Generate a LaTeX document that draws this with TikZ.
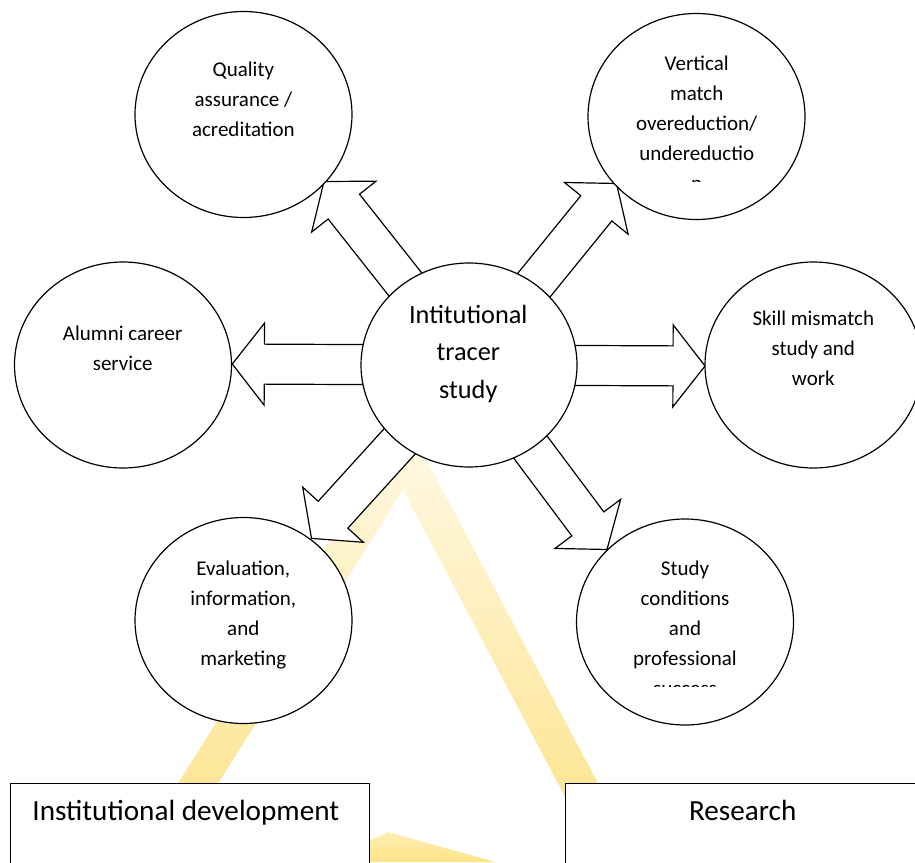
\documentclass[tikz,border=0pt]{standalone}
\usepackage{fontspec}
\setmainfont{Carlito}
\usetikzlibrary{calc,shapes.geometric}

\definecolor{wmlight}{RGB}{255,249,232}
\definecolor{wmmid}{RGB}{254,238,180}
\definecolor{wmdark}{RGB}{253,226,135}

\tikzset{
  bubble/.style={ellipse, draw, line width=1.2pt, fill=white,
    minimum width=217pt, minimum height=206pt, inner sep=0pt},
  blockarr/.style={draw, fill=white, line width=1.2pt, line join=miter},
  smalltxt/.style={font=\fontsize{21}{25}\selectfont, anchor=base, inner sep=0pt},
  bigtxt/.style={font=\fontsize{26.3}{31}\selectfont, anchor=base, inner sep=0pt},
  paneltxt/.style={font=\fontsize{29.2}{34}\selectfont, anchor=base, inner sep=0pt},
  panel/.style={draw, line width=1.2pt, fill=white, anchor=north west,
    minimum height=100pt, inner sep=0pt}
}

% wide block arrow: shaft 40pt, head 82pt wide and 32pt long
% #1 = tail point, #2 = tip point
\newcommand\blockarrow[2]{%
  \path ($(#2)!32pt!(#1)$) coordinate (hb);
  \draw[blockarr] ($(#1)!20pt!90:(#2)$)
    -- ($(hb)!20pt!-90:(#1)$)
    -- ($(hb)!41pt!-90:(#1)$)
    -- (#2)
    -- ($(hb)!41pt!90:(#1)$)
    -- ($(hb)!20pt!90:(#1)$)
    -- ($(#1)!20pt!-90:(#2)$) -- cycle;
}

\begin{document}
\begin{tikzpicture}[x=1pt,y=-1pt]
\useasboundingbox (0,0) rectangle (915,862);
\clip (0,0) rectangle (915,862);
\fill[white] (0,0) rectangle (915,862);

% faint yellow logo in the background
\shade[top color=wmlight, middle color=wmmid, bottom color=wmdark]
  (406,421) -- (639.6,862) -- (599.6,862) -- (403,490)
  -- (168.5,862) -- (128.5,862) -- cycle;
\shade[top color=wmmid, bottom color=wmdark]
  (360,845) -- (388,832) -- (495,862) -- (360,862) -- cycle;

% hub and arrow tips
\coordinate (hub) at (469,365);
\coordinate (tq) at (324,181.5);
\coordinate (tv) at (616.5,183.5);
\coordinate (ta) at (232.3,364);
\coordinate (ts) at (705,366);
\coordinate (te) at (311.5,538.4);
\coordinate (tst) at (607,549.5);

\blockarrow{hub}{tq}
\blockarrow{hub}{tv}
\blockarrow{hub}{ta}
\blockarrow{hub}{ts}
\blockarrow{hub}{te}
\blockarrow{hub}{tst}

% bubbles
\node[bubble] (Q) at (243.5,114.5) {};
\node[bubble] (V) at (696.5,116.5) {};
\node[bubble] (A) at (123,365) {};
\node[bubble, minimum width=216pt, minimum height=204pt] (C) at (hub) {};
\node[bubble] (S) at (813.5,365) {};
\node[bubble] (E) at (243.5,620.5) {};
\node[bubble] (St) at (685,622) {};

% bubble texts
\foreach \t [count=\i] in {Quality, assurance /, acreditation}
  \node[smalltxt] (q\i) at (243.4,76+30*\i-30) {\t};
\foreach \t [count=\i] in {Vertical, match, overeduction/, undereductio}
  \node[smalltxt] (v\i) at (696.7,70+30*\i-30) {\t};
\begin{scope}
  \clip (600,150) rectangle (800,181.2);
  \node[smalltxt] (v5) at (696.7,190) {n};
\end{scope}
\foreach \t [count=\i] in {Alumni career, service}
  \node[smalltxt] (a\i) at (122.7,340+30*\i-30) {\t};
\foreach \t [count=\i] in {Skill mismatch, study and, work}
  \node[smalltxt] (s\i) at (813.3,325+30*\i-30) {\t};
\foreach \t [count=\i] in {{Evaluation,}, {information,}, and, marketing}
  \node[smalltxt] (e\i) at (243.3,575+30*\i-30) {\t};
\foreach \t [count=\i] in {Study, conditions, and, professional}
  \node[smalltxt] (st\i) at (685,575+30*\i-30) {\t};
\begin{scope}
  \clip (600,670) rectangle (780,686.2);
  \node[smalltxt] (st5) at (685,695) {success};
\end{scope}
\foreach \t [count=\i] in {Intitutional, tracer, study}
  \node[bigtxt] (c\i) at (468.3,323+37.5*\i-37.5) {\t};

% panels
\node[panel, minimum width=358.5pt] (dev) at (10,783) {};
\node[paneltxt] (devtxt) at (185.8,820.7) {Institutional development};
\node[panel, minimum width=360pt] (res) at (565,783) {};
\node[paneltxt] (restxt) at (742.7,820.7) {Research};
\end{tikzpicture}
\end{document}
